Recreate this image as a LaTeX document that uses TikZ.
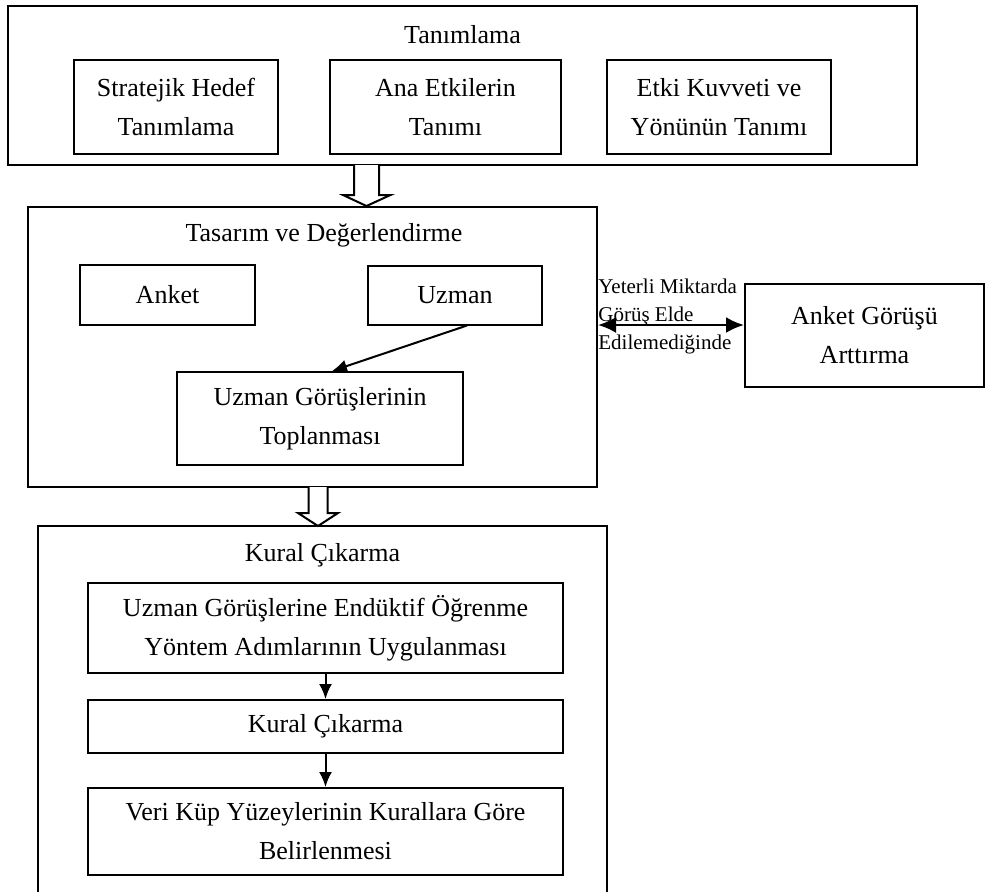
\documentclass[tikz,border=0pt]{standalone}
\usepackage{fontspec}
\setmainfont{Liberation Serif}
\usetikzlibrary{arrows.meta,positioning,calc}
\tikzset{
  outerbox/.style={draw, line width=1pt, inner sep=0pt},
  stepbox/.style={draw, line width=1pt, align=center, inner sep=0pt,
    font=\fontsize{13}{19.5}\selectfont},
  titletext/.style={inner sep=0pt, font=\fontsize{13}{19.5}\selectfont},
  notetext/.style={inner sep=0pt, align=left, font=\fontsize{10.5}{14}\selectfont},
  flow/.style={-{Latex[length=7.5pt,width=6.5pt]}, line width=1pt},
  twoway/.style={{Latex[length=9pt,width=8pt]}-{Latex[length=9pt,width=8pt]}, line width=1.2pt},
  hollow/.style={draw, line width=1pt, fill=white, line join=miter},
}

\begin{document}
\begin{tikzpicture}[x=0.5pt, y=-0.5pt]
  \useasboundingbox (0,0) rectangle (985,891);
  \clip (0,0) rectangle (985,891);

  % Tanimlama
  \node[outerbox, minimum width=454.5pt, minimum height=79.5pt] (tanim) at (462.5,85.5) {};
  \node[titletext] (tanimT) at (462.5,35) {Tanımlama};
  \node[stepbox, minimum width=102pt, minimum height=47pt] (hedef) at (176,107) {Stratejik Hedef\\Tanımlama};
  \node[stepbox, minimum width=115.5pt, minimum height=47pt] (etkiler) at (445.5,107) {Ana Etkilerin\\Tanımı};
  \node[stepbox, minimum width=112pt, minimum height=47pt] (kuvvet) at (719,107) {Etki Kuvveti ve\\Yönünün Tanımı};

  % Tasarim ve Degerlendirme
  \node[outerbox, minimum width=284.5pt, minimum height=140pt] (tasarim) at (312.5,347) {};
  \node[titletext] (tasarimT) at (324,235) {Tasarım ve Değerlendirme};
  \node[stepbox, minimum width=87.5pt, minimum height=30pt] (anket) at (167.5,295) {Anket};
  \node[stepbox, minimum width=87pt, minimum height=29.5pt] (uzman) at (455,295) {Uzman};
  \node[stepbox, minimum width=143pt, minimum height=46.5pt] (toplama) at (320,418.5) {Uzman Görüşlerinin\\Toplanması};
  \draw[flow] ([xshift=6pt]uzman.south) -- ([xshift=6pt]toplama.north);

  % geri besleme
  \node[stepbox, minimum width=119.5pt, minimum height=51.5pt] (arttirma) at (864.5,335.5) {Anket Görüşü\\Arttırma};
  \coordinate (fb) at (0,325);
  \draw[twoway] (tasarim.east |- fb) -- (arttirma.west |- fb);
  \node[notetext, anchor=west] (yetersiz) at (598,316) {Yeterli Miktarda\\Görüş Elde\\Edilemediğinde};

  % Kural Cikarma
  \node[outerbox, minimum width=284.5pt, minimum height=192pt] (kural) at (322.5,718) {};
  \node[titletext] (kuralT) at (322.5,555) {Kural Çıkarma};
  \node[stepbox, minimum width=237.5pt, minimum height=45pt] (ogrenme) at (325.5,628) {Uzman Görüşlerine Endüktif Öğrenme\\Yöntem Adımlarının Uygulanması};
  \node[stepbox, minimum width=237.5pt, minimum height=26.5pt] (cikarma) at (325.5,726.5) {Kural Çıkarma};
  \node[stepbox, minimum width=237.5pt, minimum height=43.5pt] (veri) at (325.5,831.5) {Veri Küp Yüzeylerinin Kurallara Göre\\Belirlenmesi};
  \draw[flow] (ogrenme) -- (cikarma);
  \draw[flow] (cikarma) -- (veri);

  % blok oklar
  \coordinate (b1) at (366.5,165);
  \draw[hollow] (b1) ++(-12.5,0) -- ++(0,30) -- ++(-11,0) -- (366.5,206) -- (390.5,195) -- (379,195) -- (379,165);
  \coordinate (b2) at (318,487);
  \draw[hollow] (b2) ++(-9.5,0) -- ++(0,26) -- ++(-10.5,0) -- (318,526) -- (338,513) -- (327.5,513) -- (327.5,487);
\end{tikzpicture}
\end{document}
